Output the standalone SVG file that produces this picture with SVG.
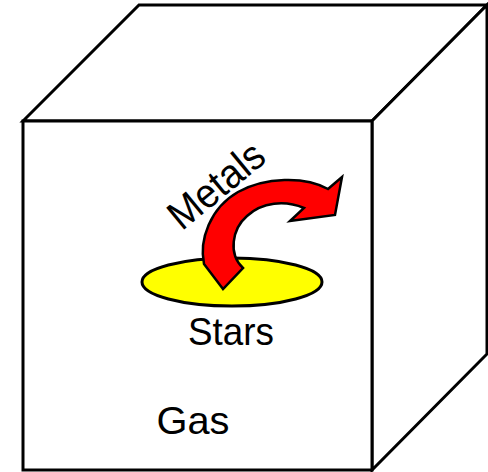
<svg xmlns="http://www.w3.org/2000/svg" width="488" height="472" viewBox="0 0 488 472">
<style>
.edge{fill:#fff;stroke:#000;stroke-width:3;stroke-linejoin:miter}
.lbl{font-family:"Liberation Sans",Arial,sans-serif;font-size:39px;fill:#000}
</style>
<rect width="488" height="472" fill="#fff"/>
<g id="cube">
<polygon class="edge" points="23,121 139,5 487,5 372,121"/>
<polygon class="edge" points="372,121 487,5 487,354 372,470"/>
<rect class="edge" x="23" y="121" width="349" height="349"/>
</g>
<g id="stars">
<ellipse cx="232" cy="282" rx="90" ry="24" fill="#ffff00" stroke="#000" stroke-width="3"/>
<text class="lbl" x="231" y="345" text-anchor="middle" textLength="86" lengthAdjust="spacingAndGlyphs">Stars</text>
</g>
<g id="connectors">
<path id="metals-arrow" d="M223,289 L204,264 C199,240 210,208 238,192 C265,177 305,176 328,189 L342,177 L335,215 L290,221 L304,208 C285,200 262,202 247,216 C232,229 228,254 243,268 Z" fill="#ff0000" stroke="#000" stroke-width="2.5" stroke-linejoin="miter"/>
<text class="lbl" x="225" y="196" text-anchor="middle" textLength="112" lengthAdjust="spacingAndGlyphs" transform="rotate(-39.5 225 196)" style="font-size:41px">Metals</text>
</g>
<g id="gas">
<text class="lbl" x="193" y="434" text-anchor="middle" textLength="73" lengthAdjust="spacingAndGlyphs">Gas</text>
</g>
</svg>
